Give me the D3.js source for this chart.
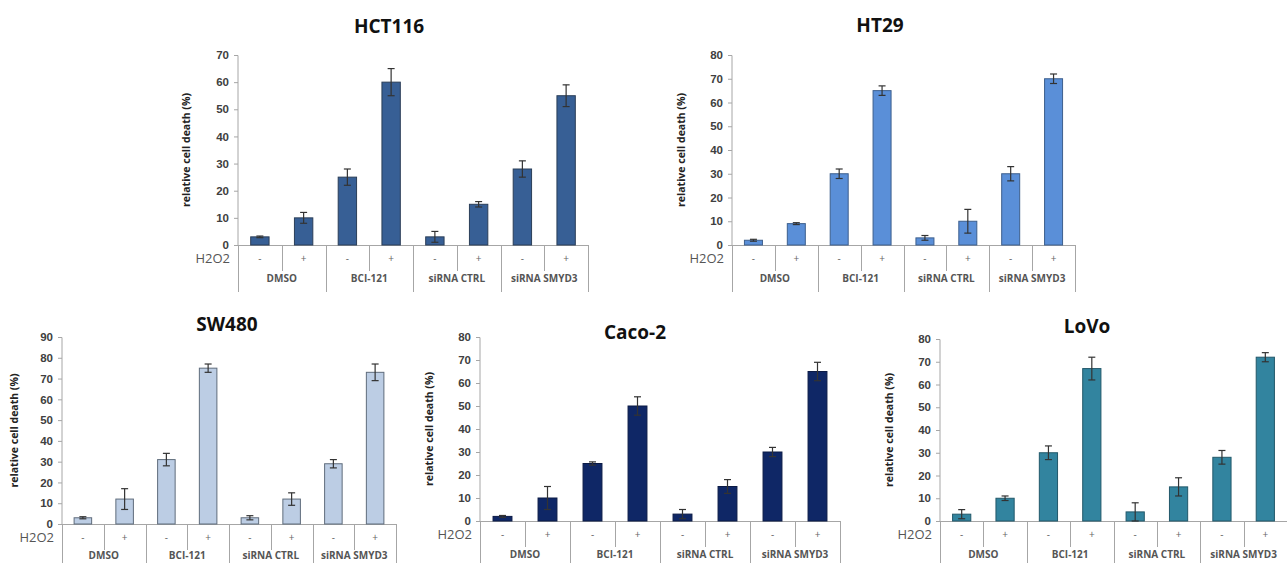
<!DOCTYPE html>
<html>
<head>
<meta charset="utf-8">
<script src="https://cdn.jsdelivr.net/npm/d3@7"></script>
<style>
  body { margin: 0; background: #fff; }
  svg { display: block; font-family: "Open Sans", "Liberation Sans", sans-serif; }
</style>
</head>
<body>
<svg id="chart" width="1287" height="563"></svg>
<script>
// Treatment groups and H2O2 status for each bar
const groups = ["DMSO", "BCI-121", "siRNA CTRL", "siRNA SMYD3"];
const h2o2 = ["-", "+"];

// Relative cell death (%) per cell line: [DMSO-, DMSO+, BCI-, BCI+, CTRL-, CTRL+, SMYD3-, SMYD3+]
const hct116Values = [3, 10, 25, 60, 3, 15, 28, 55];
const hct116Errors = [0.3, 2, 3, 5, 2, 1, 3, 4];
const ht29Values = [2, 9, 30, 65, 3, 10, 30, 70];
const ht29Errors = [0.4, 0.4, 2, 2, 1, 5, 3, 2];
const sw480Values = [3, 12, 31, 75, 3, 12, 29, 73];
const sw480Errors = [0.5, 5, 3, 2, 1, 3, 2, 4];
const caco2Values = [2, 10, 25, 50, 3, 15, 30, 65];
const caco2Errors = [0.4, 5, 0.7, 4, 2, 3, 2, 4];
const lovoValues = [3, 10, 30, 67, 4, 15, 28, 72];
const lovoErrors = [2, 1, 3, 5, 4, 4, 3, 2];

// Y axis tick values per panel
const ticks70 = [0, 10, 20, 30, 40, 50, 60, 70];
const ticks80 = [0, 10, 20, 30, 40, 50, 60, 70, 80];
const ticks90 = [0, 10, 20, 30, 40, 50, 60, 70, 80, 90];

const yLabel = "relative cell death (%)";

// Panel layout
const panels = [
  { title: "HCT116", values: hct116Values, errors: hct116Errors, ticks: ticks70,
    x0: 238, x1: 588, yBase: 245, yTop: 55, titleX: 389, titleY: 33, labX: 190,
    rowY1: 262, rowY2: 282, minorEnd: 271, majorEnd: 292,
    fill: "#375f95", stroke: "#2b3e58" },
  { title: "HT29", values: ht29Values, errors: ht29Errors, ticks: ticks80,
    x0: 732, x1: 1075, yBase: 245, yTop: 55, titleX: 880, titleY: 32, labX: 685,
    rowY1: 262, rowY2: 282, minorEnd: 271, majorEnd: 292,
    fill: "#5a8fd8", stroke: "#3d5f8d" },
  { title: "SW480", values: sw480Values, errors: sw480Errors, ticks: ticks90,
    x0: 62, x1: 396, yBase: 524, yTop: 337, titleX: 227, titleY: 331, labX: 18,
    rowY1: 541, rowY2: 559, minorEnd: 550, majorEnd: 570,
    fill: "#bccde4", stroke: "#5f6c7c" },
  { title: "Caco-2", values: caco2Values, errors: caco2Errors, ticks: ticks80,
    x0: 480, x1: 840, yBase: 521, yTop: 337, titleX: 635, titleY: 339, labX: 433,
    rowY1: 538, rowY2: 558, minorEnd: 547, majorEnd: 570,
    fill: "#0f2766", stroke: "#0b1a45" },
  { title: "LoVo", values: lovoValues, errors: lovoErrors, ticks: ticks80,
    x0: 940, x1: 1287, yBase: 521, yTop: 339, titleX: 1087, titleY: 333, labX: 893,
    rowY1: 538, rowY2: 558, minorEnd: 547, majorEnd: 570,
    fill: "#32849f", stroke: "#22586a" }
];

const svg = d3.select("#chart");
const axisGrey = "#a6a6a6";
const textGrey = "#404040";

panels.forEach(p => {
  const g = svg.append("g");
  const bars = p.values.map((v, i) => ({ v, e: p.errors[i], key: i }));

  const x = d3.scaleBand().domain(d3.range(bars.length)).range([p.x0, p.x1]).paddingInner(0.58).paddingOuter(0.29);
  const slot = d3.scaleBand().domain(d3.range(bars.length)).range([p.x0, p.x1]);
  const y = d3.scaleLinear().domain([0, d3.max(p.ticks)]).range([p.yBase, p.yTop]);

  // Y axis
  const yAxis = d3.axisLeft(y).tickValues(p.ticks).tickSize(4).tickPadding(5).tickFormat(d3.format("d"));
  const ya = g.append("g").attr("transform", `translate(${p.x0},0)`).call(yAxis);
  ya.select(".domain").attr("stroke", axisGrey).attr("d", `M-4,${p.yTop + 0.5}H0V${p.yBase}`);
  ya.selectAll(".tick line").attr("stroke", axisGrey);
  ya.selectAll(".tick text").attr("fill", textGrey).style("font-size", "11.5px").style("font-weight", "bold");

  // Baseline
  g.append("line").attr("x1", p.x0).attr("x2", p.x1).attr("y1", p.yBase + 0.5).attr("y2", p.yBase + 0.5)
    .attr("stroke", axisGrey);

  // Table separators below the axis
  d3.range(bars.length + 1).forEach(i => {
    const xx = i === bars.length ? p.x1 - 0.5 : slot(i);
    const major = i % 2 === 0;
    if (i === bars.length && p.x1 >= 1287) return;
    g.append("line").attr("x1", Math.round(xx) + 0.5).attr("x2", Math.round(xx) + 0.5)
      .attr("y1", p.yBase).attr("y2", major ? p.majorEnd : p.minorEnd)
      .attr("stroke", axisGrey);
  });

  // Bars
  g.selectAll("rect.bar").data(bars).join("rect").attr("class", "bar")
    .attr("x", d => x(d.key)).attr("width", x.bandwidth())
    .attr("y", d => y(d.v)).attr("height", d => y(0) - y(d.v))
    .attr("fill", p.fill).attr("stroke", p.stroke).attr("stroke-width", 1);

  // Error bars
  const cap = 3.5;
  bars.forEach(d => {
    const cx = x(d.key) + x.bandwidth() / 2;
    const eg = g.append("g").attr("stroke", "#333").attr("stroke-width", 1.2);
    eg.append("line").attr("x1", cx).attr("x2", cx).attr("y1", y(d.v - d.e)).attr("y2", y(d.v + d.e));
    eg.append("line").attr("x1", cx - cap).attr("x2", cx + cap).attr("y1", y(d.v + d.e)).attr("y2", y(d.v + d.e));
    eg.append("line").attr("x1", cx - cap).attr("x2", cx + cap).attr("y1", y(d.v - d.e)).attr("y2", y(d.v - d.e));
  });

  // H2O2 signs
  bars.forEach(d => {
    g.append("text").attr("x", slot(d.key) + slot.bandwidth() / 2).attr("y", p.rowY1)
      .attr("text-anchor", "middle").attr("fill", "#666").style("font-size", "10px")
      .text(h2o2[d.key % 2]);
  });
  g.append("text").attr("x", p.x0 - 8).attr("y", p.rowY1 + 1).attr("text-anchor", "end")
    .attr("fill", "#555").style("font-size", "13px").text("H2O2");

  // Group labels
  groups.forEach((name, gi) => {
    const cx = slot(gi * 2) + slot.bandwidth();
    g.append("text").attr("x", cx).attr("y", p.rowY2).attr("text-anchor", "middle")
      .attr("fill", "#555").style("font-size", "10px").style("font-weight", "bold").text(name);
  });

  // Y axis label
  g.append("text").attr("transform", `translate(${p.labX},${(p.yBase + p.yTop) / 2}) rotate(-90)`)
    .attr("text-anchor", "middle").attr("fill", "#222").style("font-size", "10.5px").style("font-weight", "bold")
    .text(yLabel);

  // Title
  g.append("text").attr("x", p.titleX).attr("y", p.titleY).attr("text-anchor", "middle")
    .attr("fill", "#111").style("font-size", "19px").style("font-weight", "bold").text(p.title);
});
</script>
</body>
</html>
